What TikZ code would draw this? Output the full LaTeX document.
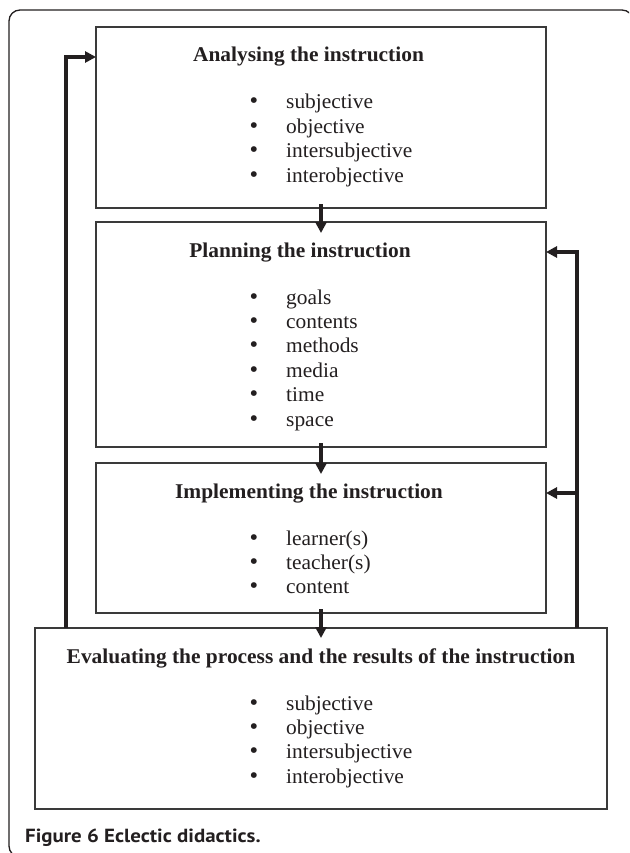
\documentclass[tikz,border=0pt]{standalone}
\usepackage{fontspec}
\setmainfont{Liberation Serif}[FakeStretch=1.02]
\newfontfamily\capfont{PT Sans}[FakeStretch=1.1]
\usetikzlibrary{arrows.meta,calc}
\definecolor{ink}{HTML}{231F20}
\definecolor{edge}{HTML}{3A3A3A}
\tikzset{
  box/.style={draw=edge, line width=1.4pt, inner sep=0pt, outer sep=0pt, anchor=north west},
  title/.style={anchor=base, inner sep=0pt, text=ink, font=\fontsize{21}{24}\selectfont\bfseries},
  itm/.style={anchor=base west, inner sep=0pt, text=ink, font=\fontsize{21}{24}\selectfont},
  bul/.style={anchor=base, inner sep=0pt, text=ink, font=\fontsize{24}{24}\selectfont},
  flow/.style={draw=ink, line width=4pt, -{Triangle[length=11pt,width=11pt]}},
  frame/.style={draw=ink, line width=1.3pt, rounded corners=11pt}
}
\newcommand{\itemlist}[3]{%
  \foreach \t [count=\i] in {#3} {
    \node[bul] (#1b\i) at (254,{#2+(\i-1)*24.4}) {•};
    \node[itm] (#1t\i) at (286,{#2+(\i-1)*24.4}) {\t};
  }%
}
\begin{document}
\begin{tikzpicture}[x=1pt,y=-1pt]
\clip (0,0) rectangle (629,853);
\fill[white] (0,0) rectangle (629,853);
\draw[frame] (9,10) rectangle (633,857);

% boxes
\node[box, minimum width=450pt, minimum height=181pt] (b1) at (96,27) {};
\node[box, minimum width=450pt, minimum height=225pt] (b2) at (96,222) {};
\node[box, minimum width=450pt, minimum height=150pt] (b3) at (96,463) {};
\node[box, minimum width=572pt, minimum height=181pt] (b4) at (35,628) {};

% titles
\node[title] (t1) at (308.5,62) {Analysing the instruction};
\node[title] (t2) at (300,257) {Planning the instruction};
\node[title] (t3) at (309,498) {Implementing the instruction};
\node[title] (t4) at (321,663) {Evaluating the process and the results of the instruction};

% items
\itemlist{a}{109}{subjective,objective,intersubjective,interobjective}
\itemlist{p}{304}{goals,contents,methods,media,time,space}
\itemlist{m}{545}{learner(s),teacher(s),content}
\itemlist{e}{710}{subjective,objective,intersubjective,interobjective}

% down arrows
\draw[flow] ([yshift=4pt]b1.south) -- ([yshift=-11pt]b2.north);
\draw[flow] ([yshift=4pt]b2.south) -- ([yshift=-11pt]b3.north);
\draw[flow] ([yshift=4pt]b3.south) -- ([yshift=-10pt]b4.north);

% left feedback
\coordinate (L1) at (66,628);
\coordinate (L2) at (66,57);
\draw[flow] (L1) -- (L2) -- (L2 -| b1.west);

% right feedback
\coordinate (R1) at (577,628);
\coordinate (R2) at (577,252);
\coordinate (R3) at (577,493);
\draw[flow] (R1) -- (R2) -- (R2 -| b2.east);
\draw[flow] (R3) -- (R3 -| b3.east);

% caption
\node[anchor=base west, inner sep=0pt, text=ink, font=\capfont\fontsize{19}{22}\selectfont\bfseries] (cap) at (25,842) {Figure 6 Eclectic didactics.};
\end{tikzpicture}
\end{document}
